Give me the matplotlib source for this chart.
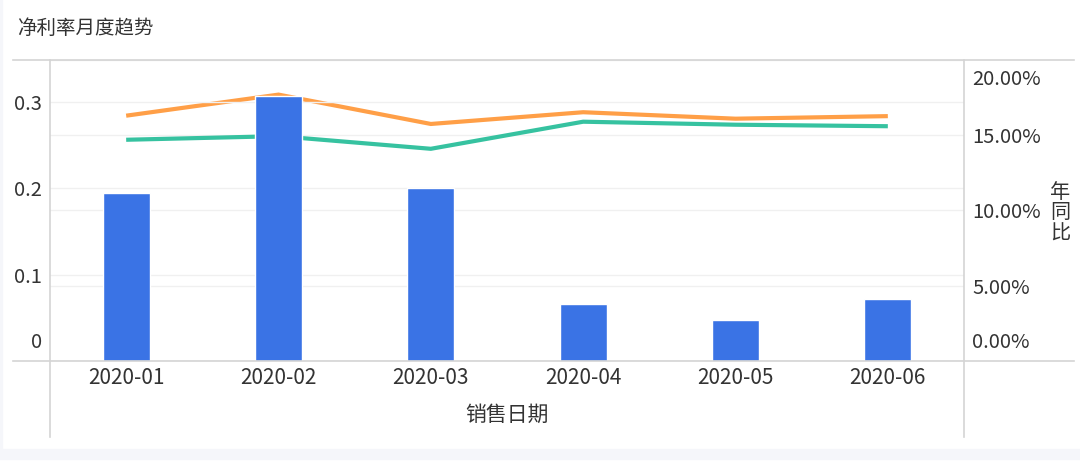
import numpy as np
import matplotlib
matplotlib.use('Agg')
import matplotlib.pyplot as plt
from matplotlib.lines import Line2D
from matplotlib.patches import Rectangle
from matplotlib.transforms import ScaledTranslation

plt.rcParams['font.family'] = ['Noto Sans CJK SC', 'DejaVu Sans']

months = ['2020-01', '2020-02', '2020-03', '2020-04', '2020-05', '2020-06']
net_margin = [0.194, 0.307, 0.200, 0.066, 0.047, 0.072]
yoy_orange = [0.163, 0.177, 0.1575, 0.1653, 0.161, 0.1627]
yoy_green = [0.147, 0.1494, 0.141, 0.159, 0.157, 0.156]
left_ticks = [0, 0.1, 0.2, 0.3]
left_labels = ['0', '0.1', '0.2', '0.3']
right_ticks = [0, 0.05, 0.10, 0.15, 0.20]
right_labels = ['0.00%', '5.00%', '10.00%', '15.00%', '20.00%']

W, H = 1080, 463
fig = plt.figure(figsize=(W / 100, H / 100), dpi=100)
fig.patch.set_facecolor('white')

def fx(px):
    return px / W

def fy(py):
    return 1 - py / H

# background bits
fig.add_artist(Rectangle((0, fy(459)), 1, 10 / H, transform=fig.transFigure,
                         color='#f5f6fa', zorder=0))
fig.add_artist(Rectangle((0, fy(449)), 2 / W, 449 / H, transform=fig.transFigure,
                         color='#f5f6fa', zorder=0))

ax = fig.add_axes([fx(50), fy(361), fx(964) - fx(50), fy(60) - fy(361)])
ax2 = ax.twinx()
ax.set_zorder(ax2.get_zorder() + 1)
ax.patch.set_visible(False)

x = np.arange(len(months))
ax.bar(x, net_margin, width=0.31, color='#3a73e5', edgecolor='white', linewidth=1)
ax2.plot(x, yoy_orange, color='#ff9f47', lw=3, solid_capstyle='butt', solid_joinstyle='miter')
ax2.plot(x, yoy_green, color='#36c2a0', lw=3, solid_capstyle='butt', solid_joinstyle='miter')

ax.set_xlim(-0.5, 5.5)
ax.set_ylim(0, 0.3486)
ax2.set_ylim(0, 0.2)

for a in (ax, ax2):
    for s in a.spines.values():
        s.set_visible(False)

ax.set_yticks(left_ticks)
ax.set_yticklabels(left_labels)
ax2.set_yticks(right_ticks)
ax2.set_yticklabels(right_labels)
ax.set_xticks(x)
ax.set_xticklabels(months)

ax.tick_params(axis='y', length=0, pad=6, labelsize=14.5, labelcolor='#333333')
ax2.tick_params(axis='y', length=0, pad=6, labelsize=14.5, labelcolor='#333333')
ax.tick_params(axis='x', length=0, pad=4, labelsize=15, labelcolor='#333333')

ax.grid(axis='y', color='#f0f0f0', lw=1)
ax2.grid(axis='y', color='#f0f0f0', lw=1)
ax.set_axisbelow(True)

# nudge edge labels inside the frame
def shift(label, dy_px):
    label.set_transform(label.get_transform() + ScaledTranslation(0, dy_px / 100, fig.dpi_scale_trans))

shift(ax.yaxis.get_major_ticks()[0].label1, 21)
shift(ax2.yaxis.get_major_ticks()[0].label2, 21)
shift(ax2.yaxis.get_major_ticks()[4].label2, -17)

ax.set_xlabel('销售日期', fontsize=15, color='#333333', labelpad=11)

fig.text(fx(17), fy(28), '净利率月度趋势', ha='left', va='center', fontsize=14, color='#333333')
fig.text(fx(1060), fy(213), '年\n同\n比', ha='center', va='center', fontsize=14.5,
         color='#333333', linespacing=1.0)

# frame lines
lc = '#d4d4d4'
for yy in (60, 361):
    fig.add_artist(Line2D([fx(13), fx(1074)], [fy(yy), fy(yy)], color=lc, lw=1.2))
for xx in (50, 964):
    fig.add_artist(Line2D([fx(xx), fx(xx)], [fy(60), fy(437)], color=lc, lw=1.2))

fig.savefig('out.png', dpi=100)
